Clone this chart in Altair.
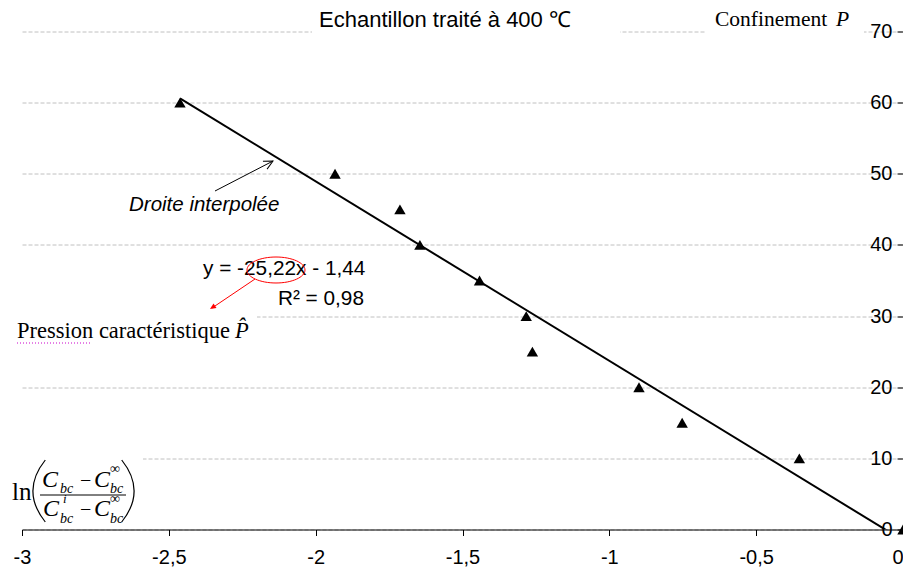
import altair as alt
import pandas as pd

# ---------------- data ----------------
ln_ratio = [-2.462, -1.934, -1.713, -1.645, -1.442, -1.283, -1.262, -0.899, -0.752, -0.353, 0.0]
confinement = [60, 50, 45, 40, 35, 30, 25, 20, 15, 10, 0]
x_ticks = [-3, -2.5, -2, -1.5, -1, -0.5, 0]
y_ticks = [0, 10, 20, 30, 40, 50, 60, 70]

title_text = "Echantillon traité à 400 ℃"
equation_text = "y = -25,22x - 1,44"
r2_text = "R² = 0,98"
line_label = "Droite interpolée"

SANS = "Liberation Sans"
SERIF = "Liberation Serif"

W, H = 881, 498
OX, OY = 22, 31.5  # absolute pixel position of plot origin (top-left)

df = pd.DataFrame({"x": ln_ratio, "y": confinement})
one = pd.DataFrame({"k": [0]})

xscale = alt.Scale(domain=[-3, 0], nice=False, zero=False)
yscale = alt.Scale(domain=[0, 70], nice=False, zero=False)

x_axis = alt.Axis(values=x_ticks, labelExpr="replace(toString(datum.value), '.', ',')",
                  title=None, grid=False, domainColor="black", domainWidth=1,
                  tickColor="black", tickSize=6, tickWidth=1,
                  labelFont=SANS, labelFontSize=20, labelColor="black",
                  labelAlign={"condition": {"test": "datum.value == 0", "value": "right"},
                              "value": "center"},
                  labelPadding=12, labelFlush=False, labelOverlap=False)
y_axis = alt.Axis(orient="left", offset=-W, values=y_ticks, title=None,
                  grid=True, gridColor="#c0c0c0", gridDash=[4, 2], gridWidth=1,
                  domainColor="black", domainWidth=1, tickColor="black", tickSize=6,
                  labelFont=SANS, labelFontSize=20, labelColor="black",
                  labelPadding=5, labelOverlap=False)


def box(x1, x2, y1, y2):
    return alt.Chart(one).mark_rect(color="white").encode(
        x=alt.value(x1 - OX), x2=alt.value(x2 - OX),
        y=alt.value(y1 - OY), y2=alt.value(y2 - OY))


def label(s, x, y, size, font=SANS, style="normal", color="black", align="left"):
    return alt.Chart(one).mark_text(text=s, font=font, fontSize=size, fontStyle=style,
                                    color=color, align=align, baseline="alphabetic").encode(
        x=alt.value(x - OX), y=alt.value(y - OY))


def sym(shape, x, y, size, color, filled, angle=0, sw=1.0):
    return alt.Chart(one).mark_point(shape=shape, size=size, filled=filled, color=color,
                                     opacity=1, strokeWidth=sw, angle=angle).encode(
        x=alt.value(x - OX), y=alt.value(y - OY))


def seg(x1, y1, x2, y2, color="black", sw=1.0, dash=None):
    kw = {}
    if dash:
        kw["strokeDash"] = dash
    return alt.Chart(one).mark_rule(color=color, strokeWidth=sw, **kw).encode(
        x=alt.value(x1 - OX), y=alt.value(y1 - OY),
        x2=alt.value(x2 - OX), y2=alt.value(y2 - OY))


ELLIPSE = ("M 1 0 C 1 0.247 0.552 0.448 0 0.448 C -0.552 0.448 -1 0.247 -1 0 "
           "C -1 -0.247 -0.552 -0.448 0 -0.448 C 0.552 -0.448 1 -0.247 1 0 Z")
OPEN_HEAD = "M -1 -0.5 L 0 0 L -1 0.5"
FILLED_HEAD = "M 0 0 L -1 -0.45 L -1 0.45 Z"
LPAREN = "M 0.3 -1 Q -0.5 0 0.3 1"
RPAREN = "M -0.3 -1 Q 0.5 0 -0.3 1"

fit_line = alt.Chart(df).transform_regression("x", "y").mark_line(
    color="black", strokeWidth=2, clip=True).encode(
    x=alt.X("x:Q", scale=xscale, axis=x_axis),
    y=alt.Y("y:Q", scale=yscale, axis=y_axis))

points = alt.Chart(df).mark_point(shape="triangle-up", filled=True, color="black",
                                  size=130, opacity=1).encode(x="x:Q", y="y:Q")

layers = [
    fit_line,
    # white backgrounds of the pasted text boxes
    box(312, 620, 8, 37),
    box(705, 864, 6, 37),
    box(5, 257, 312, 346),
    box(5, 143, 452, 527),
    points,
    # title and axis captions
    label(title_text, 445, 27, 22, align="center"),
    label("Confinement", 715, 26, 21.5, font=SERIF),
    label("P", 836, 26, 21.5, font=SERIF, style="italic"),
    label("Pression caractéristique", 17, 338, 22.5, font=SERIF),
    label("P\u0302", 235, 338, 22.5, font=SERIF, style="italic"),
    seg(17, 343, 92, 343, color="#cc00cc", sw=1, dash=[1, 2]),
    # line annotation
    label(line_label, 129, 211, 20.5, style="italic"),
    seg(215, 191, 273, 161),
    sym(OPEN_HEAD, 273, 161, 324, "black", False, angle=332.7),
    # regression equation
    label(equation_text, 203, 275, 20.8),
    label(r2_text, 364, 305, 20.8, align="right"),
    sym(ELLIPSE, 276, 270, 3364, "red", False, sw=1),
    seg(255, 279, 212, 308, color="red"),
    sym(FILLED_HEAD, 210, 309, 144, "red", True, angle=146.3),
    # ln( (Cbc - Cbc_inf) / (Cbc_i - Cbc_inf) )
    label("ln", 12, 500, 25, font=SERIF),
    sym(LPAREN, 36, 491, 3844, "black", False, sw=1.2),
    sym(RPAREN, 131, 491, 3844, "black", False, sw=1.2),
    label("C", 42, 487, 24, font=SERIF, style="italic"),
    label("bc", 60, 493, 14, font=SERIF, style="italic"),
    label("\u2212", 80, 487, 20, font=SERIF),
    label("C", 94, 487, 24, font=SERIF, style="italic"),
    label("\u221e", 110, 473, 14, font=SERIF),
    label("bc", 110, 493, 14, font=SERIF, style="italic"),
    seg(40, 495, 126, 495),
    label("C", 43, 516, 24, font=SERIF, style="italic"),
    label("i", 63, 503, 13, font=SERIF, style="italic"),
    label("bc", 60, 523, 14, font=SERIF, style="italic"),
    label("\u2212", 80, 516, 20, font=SERIF),
    label("C", 94, 516, 24, font=SERIF, style="italic"),
    label("\u221e", 110, 503, 14, font=SERIF),
    label("bc", 110, 523, 14, font=SERIF, style="italic"),
]

chart = alt.layer(*layers).properties(
    width=W, height=H,
    padding={"left": 14, "top": 23.5, "right": 0, "bottom": 37},
    autosize=alt.AutoSizeParams(type="none"),
).configure_view(strokeWidth=0)

chart.save("out.html", embed_options={"renderer": "svg", "actions": False})
